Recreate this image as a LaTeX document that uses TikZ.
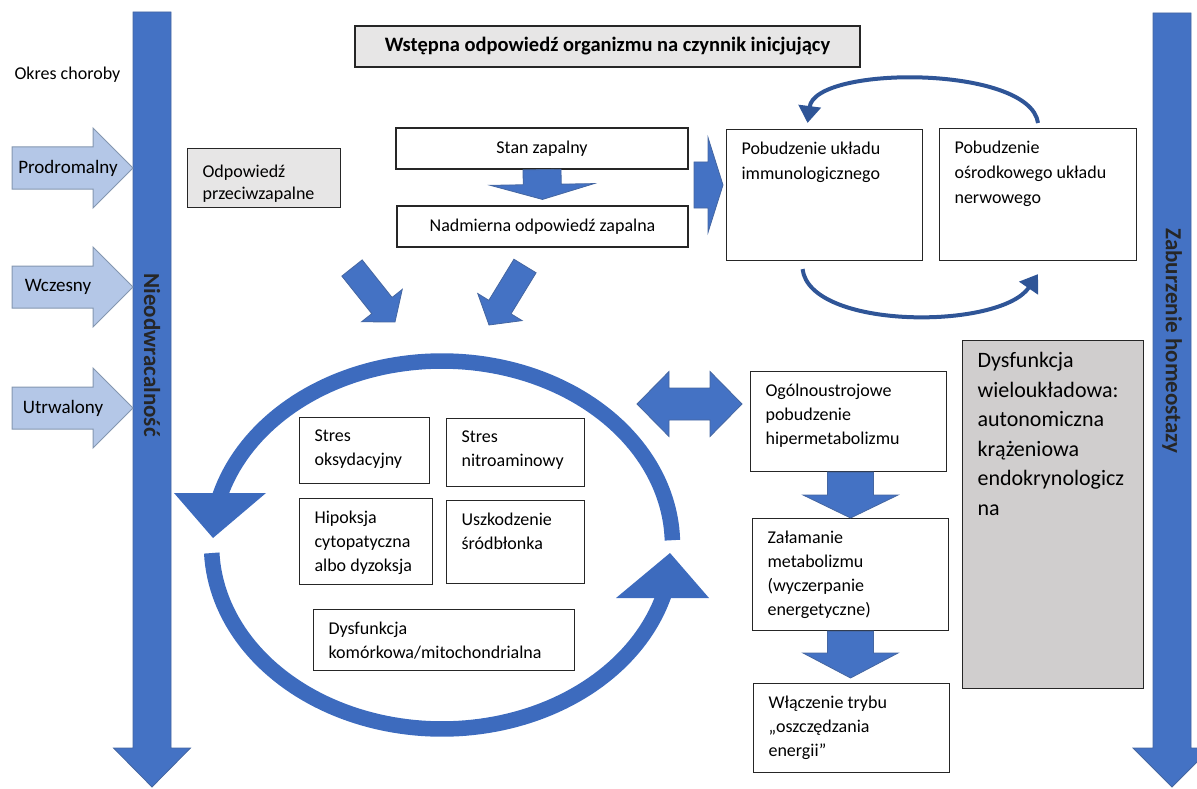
\documentclass[tikz,border=0pt]{standalone}
\usepackage{fontspec}
\setmainfont{Carlito}
\usetikzlibrary{calc,arrows.meta}

\definecolor{niebieski}{HTML}{4472C4}
\definecolor{ciemny}{HTML}{2F5597}
\definecolor{jasny}{HTML}{B4C7E7}
\definecolor{obrys}{HTML}{8497B0}
\definecolor{szary}{HTML}{E7E6E6}
\definecolor{szary2}{HTML}{D0CECE}
\definecolor{kolo}{HTML}{3D6BBE}

% tekst w ramce, wyrownany do gory
\newcommand\tekst[3]{\parbox[c][#2][t]{#1}{\raggedright #3}}
% strzalka blokowa: opcje, od, do, pol. trzonu, pol. grotu, dl. grotu
\newcommand\blockarrow[6][]{%
  \coordinate (bah) at ($(#3)!#6!(#2)$);
  \draw[#1] ($(#2)!#4!90:(#3)$) -- ($(bah)!#4!-90:(#2)$) -- ($(bah)!#5!-90:(#2)$)
    -- (#3) -- ($(bah)!#5!90:(#2)$) -- ($(bah)!#4!90:(#2)$) -- ($(#2)!#4!-90:(#3)$) -- cycle;}
% strzalka w obie strony
\newcommand\dblarrow[6][]{%
  \coordinate (bha) at ($(#2)!#6!(#3)$);
  \coordinate (bhb) at ($(#3)!#6!(#2)$);
  \draw[#1] (#2) -- ($(bha)!#5!90:(#3)$) -- ($(bha)!#4!90:(#3)$) -- ($(bhb)!#4!-90:(#2)$)
    -- ($(bhb)!#5!-90:(#2)$) -- (#3) -- ($(bhb)!#5!90:(#2)$) -- ($(bhb)!#4!90:(#2)$)
    -- ($(bha)!#4!-90:(#3)$) -- ($(bha)!#5!-90:(#3)$) -- cycle;}

\tikzset{
  pudlo/.style={draw=black!85, line width=1.1pt, fill=white, inner xsep=15pt, inner ysep=12pt,
    anchor=north west, font=\fontsize{18}{24}\selectfont},
  szare/.style={pudlo, fill=szary},
  wiersz/.style={draw=black!85, line width=1.1pt, fill=white, font=\fontsize{18}{24}\selectfont},
  belka/.style={fill=niebieski, draw=ciemny!90, line width=0.8pt},
  faza/.style={fill=jasny, draw=obrys, line width=1pt},
  napis/.style={font=\fontsize{19}{22}\selectfont},
  opis/.style={rotate=-90, font=\fontsize{23}{28}\selectfont\bfseries, text=black!85},
  pierscien/.style={draw=kolo, line width=15.5pt},
  grot/.style={fill=kolo},
  luk/.style={draw=ciemny, line width=4pt, -{Triangle[length=17pt,width=22pt]}},
}

\begin{document}
\begin{tikzpicture}[x=1pt, y=-1pt]
    \clip (0,0) rectangle (1197,789);
    % Osie boczne
    \coordinate (L0) at (152,12);
    \coordinate (L1) at (152,787);
    \coordinate (R0) at (1172,13);
    \coordinate (R1) at (1172,787);
    \blockarrow[belka]{L0}{L1}{19pt}{38.5pt}{39pt}
    \blockarrow[belka]{R0}{R1}{19pt}{39pt}{39pt}
    \node[opis] (nieodw) at (152,355) {Nieodwracalność};
    \node[opis] (zabur) at (1172,341) {Zaburzenie homeostazy};
    % Okres choroby
    \node[anchor=base west, font=\fontsize{18}{22}\selectfont] (okres) at (11,80) {Okres choroby};
    \coordinate (barL) at (133,0);
    \coordinate (p0) at (12,168);
    \coordinate (w0) at (12,287);
    \coordinate (u0) at (12,408);
    \blockarrow[faza]{p0}{p0 -| barL}{21pt}{40pt}{40pt}
    \blockarrow[faza]{w0}{w0 -| barL}{21pt}{40pt}{40pt}
    \blockarrow[faza]{u0}{u0 -| barL}{21pt}{40pt}{40pt}
    \node[napis] (prodr) at (68,168) {Prodromalny};
    \node[napis] (wczes) at (58,287) {Wczesny};
    \node[napis] (utrw) at (63,408) {Utrwalony};
    % Gora
    \node[wiersz, fill=szary, minimum width=505pt, minimum height=41pt, font=\fontsize{20.5}{24}\selectfont\bfseries]
        (tytul) at (607.5,46.5) {Wstępna odpowiedź organizmu na czynnik inicjujący};
    \node[szare, inner ysep=16pt] (odp) at (187,148) {\tekst{123pt}{27pt}{\baselineskip=22pt Odpowiedź\\przeciwzapalne}};
    \node[wiersz, minimum width=292pt, minimum height=41pt] (stan) at (542,148.5) {Stan zapalny};
    \node[wiersz, minimum width=291pt, minimum height=41pt] (nadm) at (542.5,226.5) {Nadmierna odpowiedź zapalna};
    \coordinate (sn) at ([yshift=6pt]nadm.north);
    \blockarrow[belka]{stan.south}{sn}{19pt}{52pt}{15pt}
    \node[pudlo] (imm) at (726,129) {\tekst{166pt}{107pt}{\baselineskip=25pt Pobudzenie układu\\immunologicznego}};
    \node[pudlo] (cns) at (939,128) {\tekst{167pt}{108pt}{\baselineskip=25pt Pobudzenie\\ośrodkowego układu\\nerwowego}};
    \coordinate (wej) at (694,185);
    \coordinate (wejK) at ($(imm.west |- wej)+(-3,0)$);
    \blockarrow[belka]{wej}{wejK}{23pt}{47.5pt}{15pt}
    \draw[luk] ([yshift=5pt]cns.north) .. controls (1030,65) and (815,65) .. ([xshift=-17pt,yshift=6pt]imm.north);
    \draw[luk] ([xshift=-22pt,yshift=-8pt]imm.south) .. controls (810,330) and (1000,330) .. ([yshift=-13pt]cns.south);
    % Strzalki do cyklu
    \coordinate (zL0) at (352,268);
    \coordinate (zL1) at (395,322);
    \coordinate (zR0) at (525,266);
    \coordinate (zR1) at (489,325);
    \blockarrow[belka]{zL0}{zL1}{13pt}{26pt}{21pt}
    \blockarrow[belka]{zR0}{zR1}{13pt}{26pt}{21pt}
    % Cykl
    \coordinate (krag) at (442,545);
    \draw[pierscien] plot[domain=-1.5:-166, samples=90] ({442+230.5*cos(\x)},{545+184*sin(\x)});
    \draw[pierscien] plot[domain=177.5:14.5, samples=90] ({442+230.5*cos(\x)},{545+184*sin(\x)});
    \fill[grot] (174,493) -- (266,493) -- (213,538) -- cycle;
    \fill[grot] (616,598) -- (709,598) -- (670,553) -- cycle;
    \node[pudlo] (stres1) at (299,417) {\tekst{100pt}{42pt}{Stres\\oksydacyjny}};
    \node[pudlo] (stres2) at (446,418) {\tekst{108pt}{44pt}{Stres\\nitroaminowy}};
    \node[pudlo] (hip) at (299,498) {\tekst{103pt}{62pt}{Hipoksja\\cytopatyczna\\albo dyzoksja}};
    \node[pudlo] (usz) at (446,500) {\tekst{108pt}{59pt}{Uszkodzenie\\śródbłonka}};
    \node[pudlo] (dysk) at (313,609) {\tekst{231pt}{37pt}{Dysfunkcja\\komórkowa/mitochondrialna}};
    % Prawa kolumna
    \node[pudlo] (ogol) at (750,371) {\tekst{166pt}{76pt}{Ogólnoustrojowe\\pobudzenie\\hipermetabolizmu}};
    \node[pudlo] (zal) at (752,518) {\tekst{166pt}{88pt}{Załamanie\\metabolizmu\\(wyczerpanie\\energetyczne)}};
    \node[pudlo] (wlacz) at (753,683) {\tekst{166pt}{65pt}{Włączenie trybu\\„oszczędzania\\energii”}};
    \node[pudlo, fill=szary2, font=\fontsize{22}{29.5}\selectfont] (dysw) at (962,340)
        {\tekst{151pt}{324pt}{Dysfunkcja\\wieloukładowa:\\autonomiczna\\krążeniowa\\endokrynologicz\\na}};
    \coordinate (dw0) at (637,404);
    \coordinate (dw1) at ($(ogol.west |- dw0)+(-8,0)$);
    \dblarrow[belka]{dw0}{dw1}{16pt}{32.5pt}{32pt}
    \coordinate (zk) at (ogol.south -| zal.north);
    \blockarrow[belka]{zk}{zal.north}{23pt}{47.5pt}{23pt}
    \coordinate (wk) at ($(zal.south |- wlacz.north)+(0,-5)$);
    \blockarrow[belka]{zal.south}{wk}{23pt}{47.5pt}{25pt}
\end{tikzpicture}
\end{document}
